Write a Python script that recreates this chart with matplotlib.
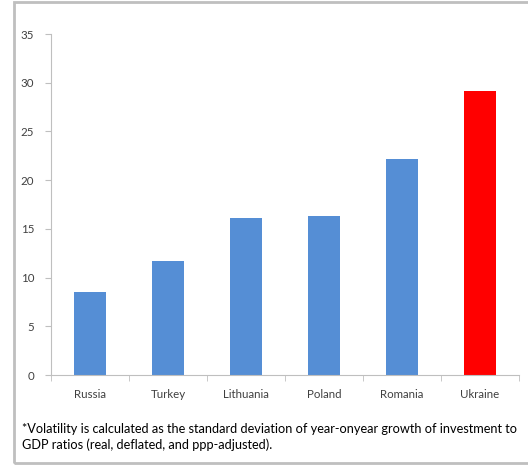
import matplotlib.pyplot as plt
from matplotlib.patches import Rectangle

countries = ['Russia', 'Turkey', 'Lithuania', 'Poland', 'Romania', 'Ukraine']
volatility = [8.5, 11.7, 16.1, 16.3, 22.2, 29.1]
bar_colors = ['#558ed5'] * 5 + ['#ff0000']
y_ticks = [0, 5, 10, 15, 20, 25, 30, 35]
footnote = ('*Volatility is calculated as the standard deviation of year-onyear growth of investment to\n'
            'GDP ratios (real, deflated, and ppp-adjusted).')

plt.rcParams['font.family'] = ['Lato', 'DejaVu Sans']

W, H = 528, 466
fig = plt.figure(figsize=(W / 100, H / 100), dpi=100)
fig.set_facecolor('white')

# grey frame round the whole picture
fig.patches.append(Rectangle((14 / W, 1 - 463 / H), 520 / W, 461 / H,
                             transform=fig.transFigure, fill=False,
                             edgecolor='#bfbfbf', linewidth=2))

ax = fig.add_axes([51 / W, 1 - 375 / H, 468 / W, 341 / H])
x = range(len(countries))
ax.bar(x, volatility, width=0.4, color=bar_colors)

ax.set_xlim(-0.5, len(countries) - 0.5)
ax.set_ylim(0, 35)
ax.set_yticks(y_ticks)
ax.tick_params(axis='y', length=4, color='#bfbfbf', labelsize=8.3, labelcolor='#404040', pad=8)

ax.set_xticks(list(x))
ax.set_xticklabels(countries)
ax.tick_params(axis='x', length=0, labelsize=8.3, labelcolor='#404040', pad=10)
# tick marks on the category boundaries
ax.set_xticks([i - 0.5 for i in range(len(countries) + 1)], minor=True)
ax.tick_params(axis='x', which='minor', length=4, color='#bfbfbf')

for side in ['top', 'right']:
    ax.spines[side].set_visible(False)
for side in ['left', 'bottom']:
    ax.spines[side].set_color('#bfbfbf')

fig.text(22 / W, 1 - 423 / H, footnote, fontsize=9.2, color='#000000',
         va='top', ha='left', linespacing=1.3)

plt.savefig('out.png', dpi=100)
